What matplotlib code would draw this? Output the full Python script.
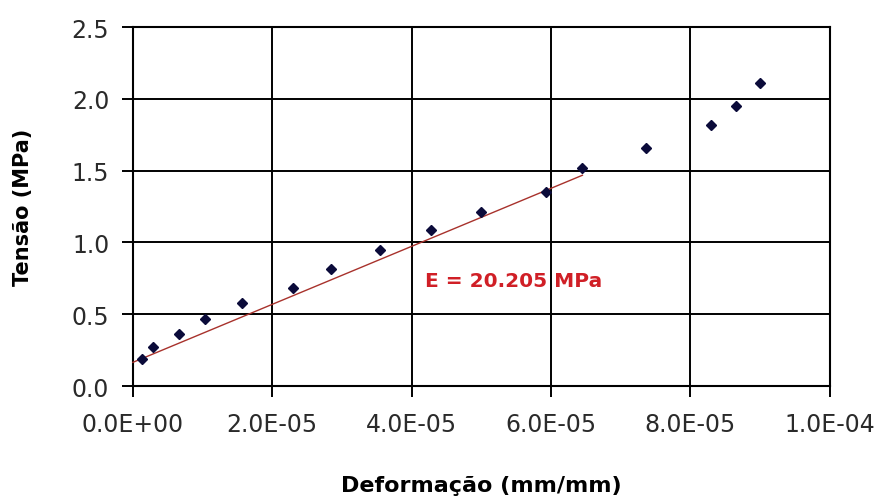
import matplotlib
matplotlib.use("Agg")
import matplotlib.pyplot as plt
import numpy as np
from matplotlib.ticker import FuncFormatter

# Ensaio de compressão: deformação específica (mm/mm) x tensão (MPa)
deformacao = [1.25e-6, 2.9e-6, 6.6e-6, 1.03e-5, 1.57e-5, 2.30e-5, 2.84e-5,
              3.54e-5, 4.28e-5, 5.00e-5, 5.93e-5, 6.45e-5, 7.36e-5, 8.29e-5,
              8.65e-5, 9.00e-5]
tensao = [0.19, 0.27, 0.36, 0.47, 0.58, 0.68, 0.815, 0.95, 1.09, 1.215,
          1.35, 1.52, 1.655, 1.82, 1.95, 2.11]

# Reta do trecho linear (módulo de elasticidade)
modulo_E = 20205.0          # MPa
intercepto = 0.165          # MPa
trecho_linear = [0.0, 6.45e-5]
rotulo_E = "E = 20.205 MPa"

x_ticks = [0.0, 2e-5, 4e-5, 6e-5, 8e-5, 1e-4]
y_ticks = [0.0, 0.5, 1.0, 1.5, 2.0, 2.5]

fig = plt.figure(figsize=(8.8, 5.02), dpi=100)
ax = fig.add_axes([0.151, 0.229, 0.792, 0.715])

xs = np.array(trecho_linear)
ax.plot(xs, intercepto + modulo_E * xs, color="#a8322c", lw=1.0, zorder=3,
        clip_on=False)
ax.plot(deformacao, tensao, linestyle="none", marker="D", markersize=5.2,
        color="#0b0b3a", zorder=4, clip_on=False)

ax.text(4.19e-5, 0.70, rotulo_E, color="#d01f26", fontsize=14.5,
        fontweight="bold", ha="left", va="baseline",
        family="DejaVu Sans")

ax.set_xlim(0, 1e-4)
ax.set_ylim(0, 2.5)
ax.set_xticks(x_ticks)
ax.set_yticks(y_ticks)
ax.xaxis.set_major_formatter(FuncFormatter(lambda v, p: f"{v:.1E}"))
ax.yaxis.set_major_formatter(FuncFormatter(lambda v, p: f"{v:.1f}"))

ax.grid(True, color="black", linewidth=1.4)
ax.set_axisbelow(True)
for s in ax.spines.values():
    s.set_linewidth(1.5)
    s.set_color("black")

ax.tick_params(axis="both", direction="out", length=8, width=1.4,
               labelsize=17, labelcolor="#2a2a2a")
ax.tick_params(axis="x", pad=11)
ax.tick_params(axis="y", pad=9)

ax.set_xlabel("Deformação (mm/mm)", fontsize=16, fontweight="bold",
              labelpad=28)
ax.set_ylabel("Tensão (MPa)", fontsize=15, fontweight="bold", labelpad=28)

fig.savefig("out.png", dpi=100, facecolor="white")
